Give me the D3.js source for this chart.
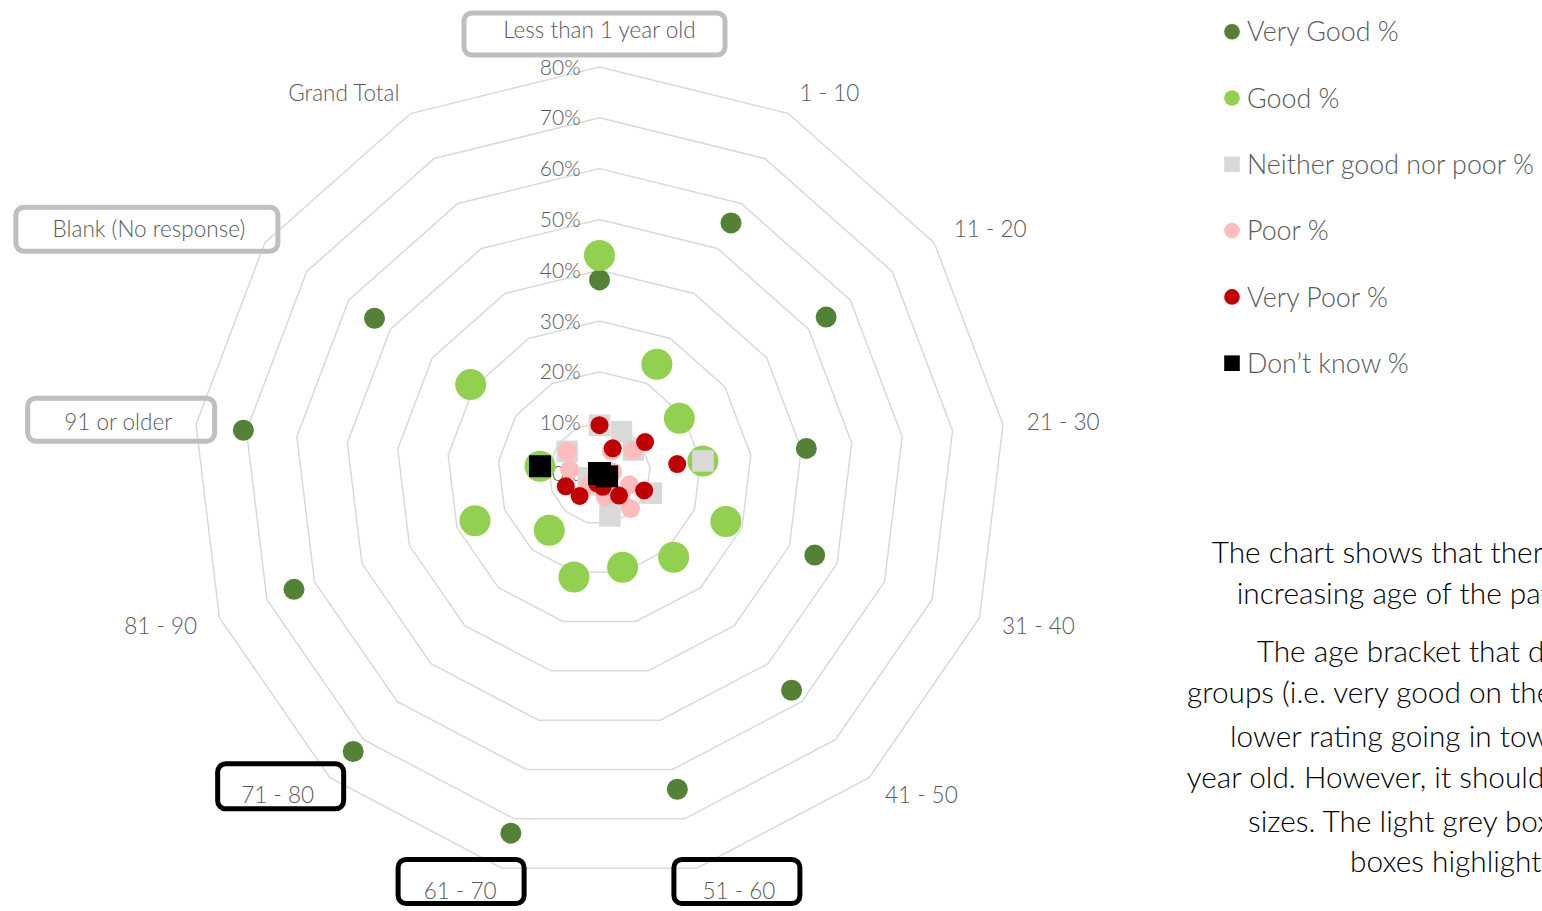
<!DOCTYPE html>
<html>
<head>
<meta charset="utf-8">
<script src="https://cdn.jsdelivr.net/npm/d3@7"></script>
<style>
  html, body { margin: 0; padding: 0; background: #fff; overflow: hidden; }
  svg { display: block; font-family: Lato, "Open Sans", sans-serif; }
</style>
</head>
<body>
<svg id="chart" width="1542" height="911"></svg>
<script>
// Patient age brackets (spokes of the radar, clockwise from the top)
const categories = [
  "Less than 1 year old", "1 - 10", "11 - 20", "21 - 30", "31 - 40", "41 - 50",
  "51 - 60", "61 - 70", "71 - 80", "81 - 90", "91 or older", "Blank (No response)", "Grand Total"
];

// Share of responses per rating, in percent (null = no value plotted)
const veryGood = [38.1, 55.7, 54.2, 41.0, 45.3, 57.0, 64.0, 72.9, 73.1, 64.3, 70.6, 53.8, null];
const good     = [42.9, 24.3, 19.1, 20.5, 26.6, 22.0, 19.0, 21.0, 14.9, 26.2, 11.8, 30.8, null];
const neither  = [ 9.5,  9.3,  8.1, 20.5, 10.9,  6.0,  8.6,  2.0,  3.0,  2.4,  0.0,  7.7, null];
const poor     = [ 0.0,  5.0,  8.0,  2.6,  6.3,  9.2,  4.7,  2.0,  3.0,  0.0,  5.9,  7.7, null];
const veryPoor = [ 9.5,  5.6, 10.9, 15.4,  9.4,  5.8,  2.7,  2.0,  5.9,  7.1,  0.0,  0.0, null];
const dontKnow = [ 0.0,  0.0,  0.0,  0.0,  1.6,  0.0,  0.0,  0.0,  0.0,  0.0, 11.8,  0.0, null];

const seriesNames = ["Very Good %", "Good %", "Neither good nor poor %", "Poor %", "Very Poor %", "Don\u2019t know %"];

// Radial axis
const tickValues = [0, 10, 20, 30, 40, 50, 60, 70, 80];
const tickLabels = ["0%", "10%", "20%", "30%", "40%", "50%", "60%", "70%", "80%"];

// Commentary beside the chart
const noteLines = [
  "The chart shows that there",
  "increasing age of the patients",
  "The age bracket that does",
  "groups (i.e. very good on the",
  "lower rating going in towards",
  "year old. However, it should",
  "sizes. The light grey boxes",
  "boxes highlight"
];

// ---- styling -------------------------------------------------------------
const seriesValues = [veryGood, good, neither, poor, veryPoor, dontKnow];
const seriesStyle = [
  { color: "#538135", shape: "circle", size: 21 },
  { color: "#92d050", shape: "circle", size: 31 },
  { color: "#d9d9d9", shape: "square", size: 21.5 },
  { color: "#ffbcbc", shape: "circle", size: 19 },
  { color: "#c00000", shape: "circle", size: 18 },
  { color: "#000000", shape: "square", size: 22 }
];

const W = 1542, H = 911;
const cx = 599.5, cy = 473.5, R = 406.5;
const labelColor = "#595959";

const svg = d3.select("#chart");
svg.append("rect").attr("width", W).attr("height", H).attr("fill", "#fff");

const r = d3.scaleLinear().domain([0, 80]).range([0, R]);
const angle = d3.scaleLinear().domain([0, categories.length]).range([0, 2 * Math.PI]);

const g = svg.append("g").attr("transform", `translate(${cx},${cy})`);

// concentric polygon gridlines
const ring = d3.lineRadial()
  .angle((d, i) => angle(i))
  .radius(d => r(d))
  .curve(d3.curveLinearClosed);

g.append("g").selectAll("path")
  .data(tickValues.filter(v => v > 0))
  .join("path")
  .attr("d", v => ring(categories.map(() => v)))
  .attr("fill", "none")
  .attr("stroke", "#d9d9d9")
  .attr("stroke-width", 1.5);

// radial tick labels up the top spoke
g.append("g").selectAll("text")
  .data(tickValues)
  .join("text")
  .attr("x", -19)
  .attr("y", v => -r(v))
  .attr("dy", "0.36em")
  .attr("text-anchor", "end")
  .attr("font-size", 21)
  .attr("font-weight", 300)
  .attr("fill", labelColor)
  .text((v, i) => tickLabels[i]);

// category labels around the outer ring
const labelGap = 24;
const labelPos = categories.map((c, i) => {
  const a = angle(i);
  const s = Math.sin(a), co = Math.cos(a);
  const [vx, vy] = d3.pointRadial(a, R);
  const anchor = Math.abs(s) < 0.05 ? "middle" : (s > 0 ? "start" : "end");
  let y = vy - 23.5 * co;
  if (Math.abs(s) < 0.05 && co > 0) y -= 13.5; // keep clear of the top tick label
  return { x: vx + labelGap * s, y, anchor };
});

const catText = g.append("g").selectAll("text")
  .data(categories)
  .join("text")
  .attr("x", (d, i) => labelPos[i].x)
  .attr("y", (d, i) => labelPos[i].y)
  .attr("dy", "0.36em")
  .attr("text-anchor", (d, i) => labelPos[i].anchor)
  .attr("font-size", 22.5)
  .attr("font-weight", 300)
  .attr("fill", labelColor)
  .text(d => d);

// data markers, one layer per series in legend order
seriesValues.forEach((vals, si) => {
  const st = seriesStyle[si];
  const pts = vals.map((v, i) => ({ v, i })).filter(d => d.v != null)
    .map(d => ({ ...d, p: d3.pointRadial(angle(d.i), r(d.v)) }));
  const layer = g.append("g");
  if (st.shape === "circle") {
    layer.selectAll("circle").data(pts).join("circle")
      .attr("cx", d => d.p[0]).attr("cy", d => d.p[1])
      .attr("r", st.size / 2).attr("fill", st.color);
  } else {
    layer.selectAll("rect").data(pts).join("rect")
      .attr("x", d => d.p[0] - st.size / 2).attr("y", d => d.p[1] - st.size / 2)
      .attr("width", st.size).attr("height", st.size).attr("fill", st.color);
  }
});

// highlight frames drawn around selected category labels
const highlights = [
  { cat: "Less than 1 year old", stroke: "#bfbfbf", w: 261, h: 42, dx: -5, dy: 4 },
  { cat: "Blank (No response)", stroke: "#bfbfbf", w: 262, h: 44, dx: -2, dy: 0 },
  { cat: "91 or older",          stroke: "#bfbfbf", w: 187, h: 43, dx: 3, dy: -2 },
  { cat: "71 - 80",              stroke: "#000000", w: 126, h: 45, dx: 3, dy: -9 },
  { cat: "61 - 70",              stroke: "#000000", w: 126, h: 44, dx: 1, dy: -9.5 },
  { cat: "51 - 60",              stroke: "#000000", w: 126, h: 44, dx: -2, dy: -9.5 }
];
highlights.forEach(hl => {
  const i = categories.indexOf(hl.cat);
  const node = catText.filter((d, j) => j === i).node();
  const b = node.getBBox();
  const mx = b.x + b.width / 2 + hl.dx;
  const my = labelPos[i].y + hl.dy;
  g.append("rect")
    .attr("x", mx - hl.w / 2).attr("y", my - hl.h / 2)
    .attr("width", hl.w).attr("height", hl.h)
    .attr("rx", 8).attr("ry", 8)
    .attr("fill", "none")
    .attr("stroke", hl.stroke)
    .attr("stroke-width", 5);
});

// legend
const legend = svg.append("g").attr("transform", "translate(1232,31.7)");
const legendRow = legend.selectAll("g")
  .data(seriesNames)
  .join("g")
  .attr("transform", (d, i) => `translate(0,${i * 66.3})`);
legendRow.each(function (d, i) {
  const row = d3.select(this);
  const st = seriesStyle[i];
  if (st.shape === "circle") {
    row.append("circle").attr("r", 7.8).attr("fill", st.color);
  } else {
    row.append("rect").attr("x", -7.8).attr("y", -7.8)
      .attr("width", 15.6).attr("height", 15.6).attr("fill", st.color);
  }
  row.append("text")
    .attr("x", 15).attr("dy", "0.36em")
    .attr("font-size", 26.8)
    .attr("font-weight", 300)
    .attr("fill", labelColor)
    .text(d);
});

// commentary text, a centred block that runs past the right edge
const noteStarts = [1211.7, 1236.7, 1256.7, 1187, 1230, 1186.7, 1248, 1350];
const noteBase = [562.7, 604, 662.3, 703.3, 746.7, 788.3, 831.7, 871.7];
svg.append("g").selectAll("text")
  .data(noteLines)
  .join("text")
  .attr("x", (d, i) => noteStarts[i])
  .attr("y", (d, i) => noteBase[i])
  .attr("font-size", 29.8)
  .attr("font-weight", 300)
  .attr("fill", "#000")
  .text(d => d);
</script>
</body>
</html>
